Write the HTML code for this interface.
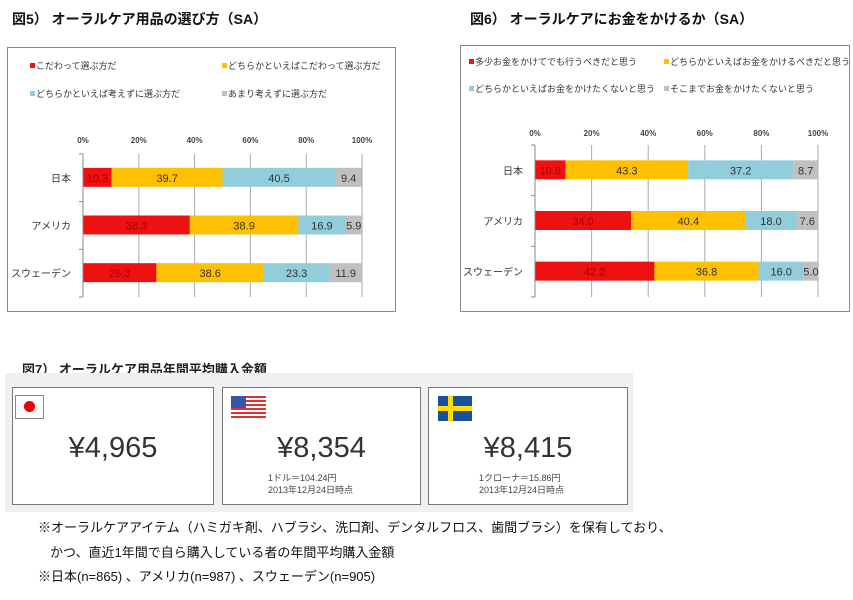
<!DOCTYPE html>
<html><head><meta charset="utf-8">
<style>
body{margin:0;width:853px;height:600px;background:#fff;position:relative;overflow:hidden;font-family:"Liberation Sans","Noto Sans CJK JP",sans-serif;}
.abs{position:absolute;}
svg text{font-family:"Liberation Sans","Noto Sans CJK JP",sans-serif;}
</style></head><body>
<svg class="abs" style="left:0;top:0" width="853" height="340">
<g id="c1"></g>
<g id="c2"></g>
</svg>

<div class="abs" style="left:22px;top:359px;font-size:13px;font-weight:bold;color:#222">図7） オーラルケア用品年間平均購入金額</div>
<div class="abs" style="left:5px;top:373px;width:628px;height:139px;background:#f0f0f0"></div>

<div class="abs" style="left:12px;top:387px;width:200px;height:116px;border:1px solid #777;background:#fff">
  <div class="abs" style="left:2px;top:7px;width:27px;height:22px;border:1px solid #888;background:#fff"><div class="abs" style="left:8px;top:5px;width:11px;height:11px;border-radius:50%;background:#e00"></div></div>
  <div class="abs" style="left:0;top:44px;width:200px;text-align:center;font-size:29px;color:#333">¥4,965</div>
</div>
<div class="abs" style="left:222px;top:387px;width:197px;height:116px;border:1px solid #777;background:#fff">
  <div class="abs" style="left:8px;top:8px;width:35px;height:23px;background:repeating-linear-gradient(#d33 0 2px,#fff 2px 4px)"><div class="abs" style="left:0;top:0;width:15px;height:12px;background:#35a"></div></div>
  <div class="abs" style="left:0;top:44px;width:197px;text-align:center;font-size:29px;color:#333">¥8,354</div>
  <div class="abs" style="left:45px;top:84px;font-size:9px;line-height:12px;color:#444">1ドル＝104.24円<br>2013年12月24日時点</div>
</div>
<div class="abs" style="left:428px;top:387px;width:198px;height:116px;border:1px solid #777;background:#fff">
  <div class="abs" style="left:9px;top:8px;width:34px;height:25px;background:#1a4f9c"><div class="abs" style="left:10px;top:0;width:5px;height:25px;background:#fd0"></div><div class="abs" style="left:0;top:10px;width:34px;height:5px;background:#fd0"></div></div>
  <div class="abs" style="left:0;top:44px;width:198px;text-align:center;font-size:29px;color:#333">¥8,415</div>
  <div class="abs" style="left:50px;top:84px;font-size:9px;line-height:12px;color:#444">1クローナ＝15.86円<br>2013年12月24日時点</div>
</div>

<div class="abs" style="left:38px;top:517px;font-size:13px;color:#111">※オーラルケアアイテム（ハミガキ剤、ハブラシ、洗口剤、デンタルフロス、歯間ブラシ）を保有しており、</div>
<div class="abs" style="left:50px;top:542px;font-size:13px;color:#111">かつ、直近1年間で自ら購入している者の年間平均購入金額</div>
<div class="abs" style="left:38px;top:566px;font-size:13px;color:#111">※日本(n=865) 、アメリカ(n=987) 、スウェーデン(n=905)</div>

<script>
const categories=["日本","アメリカ","スウェーデン"];
const ticks=["0%","20%","40%","60%","80%","100%"];
const colors=["#ee1111","#ffc000","#92cddc","#c0c0c0"];
const fig5Legend=["こだわって選ぶ方だ","どちらかといえばこだわって選ぶ方だ","どちらかといえば考えずに選ぶ方だ","あまり考えずに選ぶ方だ"];
const fig5S1=[10.3,38.3,26.3];
const fig5S2=[39.7,38.9,38.6];
const fig5S3=[40.5,16.9,23.3];
const fig5S4=[9.4,5.9,11.9];
const fig6Legend=["多少お金をかけてでも行うべきだと思う","どちらかといえばお金をかけるべきだと思う","どちらかといえばお金をかけたくないと思う","そこまでお金をかけたくないと思う"];
const fig6S1=[10.8,34.0,42.2];
const fig6S2=[43.3,40.4,36.8];
const fig6S3=[37.2,18.0,16.0];
const fig6S4=[8.7,7.6,5.0];

const NS="http://www.w3.org/2000/svg";
function mk(p,t,a){const e=document.createElementNS(NS,t);for(const k in a)e.setAttribute(k,a[k]);p.appendChild(e);return e;}
function draw(g,cfg){
  const x=v=>cfg.x0+(cfg.x1-cfg.x0)*v/100;
  const box=mk(g,'rect',{x:cfg.bx,y:cfg.by,width:cfg.bw,height:cfg.bh,fill:'#fff',stroke:'#888','stroke-width':1});
  
  
  const ti=mk(g,'text',{x:cfg.tx,y:24,'font-size':14,'font-weight':'bold',fill:'#111'});ti.textContent=cfg.title;
  
  
  cfg.legend.forEach((l,i)=>{
    const lx=cfg.lx[i%2],ly=cfg.ly[Math.floor(i/2)];
    const lg=mk(g,'g',{});
    
    
    mk(lg,'rect',{x:lx,y:ly-6,width:5,height:5,fill:colors[i]});
    const t=mk(lg,'text',{x:lx+6,y:ly,'font-size':9,fill:'#333'});t.textContent=l;
  });
  ticks.forEach((tk,i)=>{
    const v=i*20;
    const t=mk(g,'text',{x:x(v),y:cfg.tickY,'font-size':8,'font-weight':'bold','text-anchor':'middle',fill:'#444'});t.textContent=tk;
    
    
    mk(g,'line',{x1:x(v),x2:x(v),y1:cfg.ay0,y2:cfg.ay1,stroke:'#aaa','stroke-width':1});
  });
  const step=(cfg.ay1-cfg.ay0)/3;
  for(let i=0;i<=3;i++)mk(g,'line',{x1:cfg.x0-4,x2:cfg.x0,y1:cfg.ay0+step*i,y2:cfg.ay0+step*i,stroke:'#888'});
  const series=cfg.series;
  categories.forEach((c,ci)=>{
    const cy=cfg.ay0+step*(ci+0.5);
    const lab=mk(g,'text',{x:cfg.x0-12,y:cy+4,'font-size':10,'text-anchor':'end',fill:'#333'});lab.textContent=c;
    
    
    let acc=0;
    series.forEach((s,si)=>{
      const v=s[ci];
      const r=mk(g,'rect',{x:x(acc),y:cy-10,width:x(acc+v)-x(acc),height:19,fill:colors[si]});
      
      
      const t=mk(g,'text',{x:(x(acc)+x(acc+v))/2,y:cy+4,'font-size':11,'text-anchor':'middle',fill:si==0?'#a00':'#333'});t.textContent=v.toFixed(1);
      acc+=v;
    });
  });
  mk(g,'line',{x1:cfg.x0,x2:cfg.x0,y1:cfg.ay0,y2:cfg.ay1,stroke:'#888'});
}
draw(document.getElementById('c1'),{bx:7.5,by:47.5,bw:388,bh:264,tx:12,title:"図5） オーラルケア用品の選び方（SA）",
  legend:fig5Legend,lx:[30,222],ly:[69,97],tickY:143,x0:83,x1:362,ay0:154,ay1:297,series:[fig5S1,fig5S2,fig5S3,fig5S4]});
draw(document.getElementById('c2'),{bx:460.5,by:45.5,bw:389,bh:266,tx:470,title:"図6） オーラルケアにお金をかけるか（SA）",
  legend:fig6Legend,lx:[469,664],ly:[65,92],tickY:136,x0:535,x1:818,ay0:145,ay1:297,series:[fig6S1,fig6S2,fig6S3,fig6S4]});
</script>
</body></html>
